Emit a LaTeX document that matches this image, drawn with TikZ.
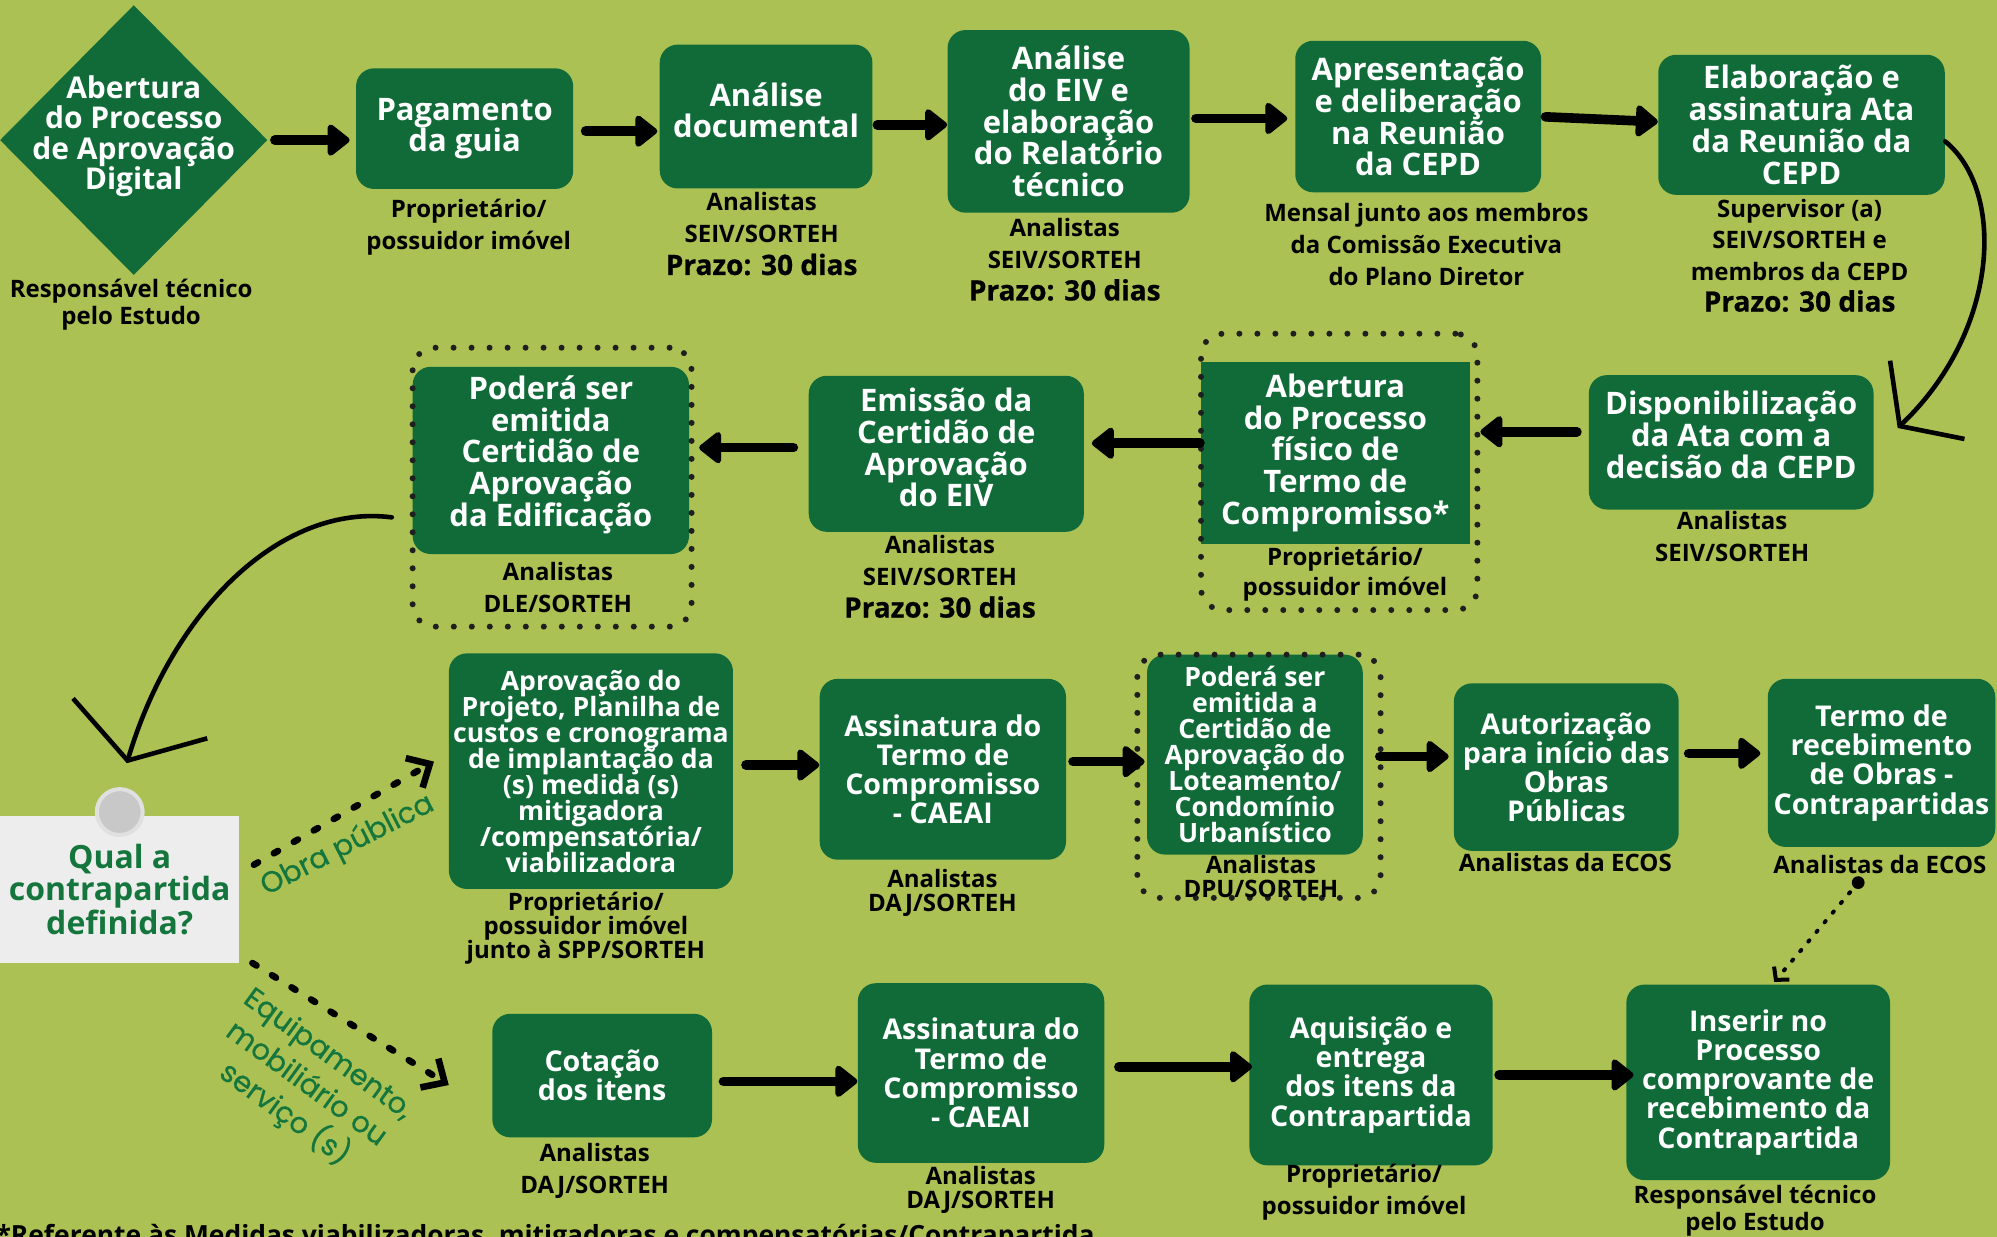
\documentclass[tikz,border=0pt]{standalone}
\usepackage{fontspec}
\setmainfont{Open Sans}
\newfontfamily\popfont[FakeBold=0.5]{Poppins}
\newfontfamily\przfont[FakeBold=0.7]{Open Sans}
\usetikzlibrary{arrows.meta,shapes.geometric}
\newcommand\pxu{0.6368pt}
\newcommand\prz{\przfont\bfseries\fontsize{14}{17}\selectfont}
\newcommand\dpth[1]{\rule[-#1]{0pt}{#1}}
\newcommand\tightls{\lineskiplimit=-50pt\relax}
\definecolor{bgc}{RGB}{171,193,83}
\definecolor{boxg}{RGB}{16,107,56}
\definecolor{txtg}{RGB}{20,118,60}
\definecolor{notebg}{RGB}{237,237,238}
\definecolor{pinfill}{RGB}{200,200,200}
\definecolor{pinring}{RGB}{224,224,224}
\tikzset{
 gbox/.style={fill=boxg, rounded corners=9pt, text=white, align=center, inner sep=0pt},
 sqbox/.style={fill=boxg, text=white, align=center, inner sep=0pt},
 sz/.style 2 args={minimum width=#1*\pxu, minimum height=#2*\pxu},
 fA/.style={font=\fontsize{15.5}{15.9}\selectfont\bfseries},
 fB/.style={font=\fontsize{14.3}{14.6}\selectfont\bfseries},
 fC/.style={font={\fontsize{13.3}{13}\selectfont\bfseries\tightls}},
 lbl/.style={anchor=north, align=center, inner sep=0pt, text=black, font=\fontsize{12}{#1}\selectfont\bfseries},
 lbl/.default=16,
 dotb/.style={draw=black!88, line width=3pt, dash pattern=on 0pt off 9pt, line cap=round, rounded corners=11pt, inner sep=0pt},
 barr/.style={line width=4.8pt, line cap=round, -{Triangle[length=12pt,width=18pt,round]}},
 curvR/.style={line width=2.3pt, line cap=round, -{Straight Barb[length=19pt,width=54pt]}},
 curvL/.style={line width=2.3pt, line cap=round, -{Straight Barb[length=22pt,width=70pt]}},
 dsh/.style={line width=3.3pt, line cap=round, dash pattern=on 2.4pt off 9.1pt, -{Straight Barb[length=9pt,width=17pt]}},
 dotarr/.style={line width=2pt, line cap=round, dash pattern=on 0.8pt off 5.5pt, -{Straight Barb[length=4.5pt,width=10pt]}},
 slant/.style={text=txtg, font=\popfont\fontsize{14.5}{18.5}\selectfont, align=center, inner sep=0pt}
}
\begin{document}
\begin{tikzpicture}[x=0.6368pt,y=-0.6368pt]
\fill[bgc] (0,0) rectangle (1568,971);
\useasboundingbox (0,0) rectangle (1568,971);

% ---------- row 1
\node[diamond, fill=boxg, sz={210}{212}, inner sep=0pt] (dia) at (105,110) {};
\node[text=white, align=center, inner sep=0pt, font=\fontsize{15}{15.1}\selectfont\bfseries] (diat) at (105,107) {Abertura\\do Processo\\de Aprovação\\Digital};
\node[gbox, fA, sz={170.5}{94.7}] (pag) at (364.8,101) {Pagamento\\da guia};
\node[gbox, fA, sz={167}{113}] (doc) at (601.5,91.5) {Análise\\documental\dpth{6.4pt}};
\node[gbox, fA, sz={190}{143.4}] (eiv) at (839,95.3) {Análise\\do EIV e\\elaboração\\do Relatório\\técnico};
\node[gbox, fA, sz={193}{119}] (apr) at (1113.5,91.5) {Apresentação\\e deliberação\\na Reunião\\da CEPD};
\node[gbox, fA, sz={225}{110}] (ela) at (1414.5,98) {Elaboração e\\assinatura Ata\\da Reunião da\\CEPD};

% ---------- row 2
\node[gbox, fA, sz={223.5}{105.5}] (dis) at (1359.3,347.3) {Disponibilização\\da Ata com a\\decisão da CEPD\dpth{7.6pt}};
\node[sqbox, fA, sz={211}{143}] (abf) at (1048.5,355.5) {Abertura\\do Processo\\físico de\\Termo de\\Compromisso*};
\node[gbox, fA, sz={216}{122.5}] (emi) at (743,356.3) {Emissão da\\Certidão de\\Aprovação\\do EIV\dpth{6.4pt}};
\node[gbox, fA, sz={217}{147}] (ped) at (432.5,361.5) {Poderá ser\\emitida\\Certidão de\\Aprovação\\da Edificação\dpth{9.4pt}};

% ---------- note
\node[fill=notebg, sz={188}{115}, inner sep=0pt, text=txtg, align=center, font=\fontsize{16}{15.6}\selectfont\bfseries] (note) at (94,698.5) {Qual a\\contrapartida\\definida?};
\node[circle, fill=pinfill, draw=pinring, line width=2pt, minimum size=36*\pxu, inner sep=0pt] (pin) at (94,637.6) {};

% ---------- row 3
\node[gbox, fC, sz={223}{185}] (apv) at (464,605.5) {Aprovação do\\Projeto, Planilha de\\custos e cronograma\\de implantação da\\(s) medida (s)\\mitigadora\\/compensatória/\\viabilizadora};
\node[gbox, fB, sz={193.4}{142}] (as3) at (740.3,604) {Assinatura do\\Termo de\\Compromisso\\- CAEAI};
\node[gbox, fC, sz={169.4}{157}] (lot) at (985.3,592.5) {Poderá ser\\emitida a\\Certidão de\\Aprovação do\\Loteamento/\\Condomínio\\Urbanístico};
\node[gbox, fB, sz={176.5}{131.5}] (aut) at (1229.8,602.3) {Autorização\\para início das\\Obras\\Públicas};
\node[gbox, fB, sz={178.6}{132}] (trc) at (1477.3,599) {Termo de\\recebimento\\de Obras -\\Contrapartidas};

% ---------- row 4
\node[gbox, fB, sz={172.5}{97}] (cot) at (472.8,844.5) {Cotação\\dos itens};
\node[gbox, fB, sz={193.5}{141}] (as4) at (770.3,842.5) {Assinatura do\\Termo de\\Compromisso\\- CAEAI};
\node[gbox, fB, sz={191}{142}] (aqu) at (1076.5,844) {Aquisição e\\entrega\\dos itens da\\Contrapartida};
\node[gbox, fB, sz={207}{153.5}] (ins) at (1380.5,849.8) {Inserir no\\Processo\\comprovante de\\recebimento da\\Contrapartida};

% ---------- dotted frames
\node[dotb, sz={217}{217}] (abfd) at (1051.5,370.5) {};
\node[dotb, sz={219}{219}] (pedd) at (433.5,382.5) {};
\node[dotb, sz={191}{191}] (lotd) at (988.5,609.5) {};

% ---------- labels
\node[lbl=13.4] (dial) at (103,219) {Responsável técnico\\pelo Estudo};
\node[lbl] (pagl) at (368,156) {Proprietário/\\possuidor imóvel};
\node[lbl] (docl) at (598,151) {Analistas\\SEIV/SORTEH\\\prz Prazo: 30 dias};
\node[lbl] (eivl) at (836,171) {Analistas\\SEIV/SORTEH\\\prz Prazo: 30 dias};
\node[lbl] (aprl) at (1120,159) {Mensal junto aos membros\\da Comissão Executiva\\do Plano Diretor};
\node[lbl=15.7] (elal) at (1413,156) {Supervisor (a)\\SEIV/SORTEH e\\membros da CEPD\\\prz Prazo: 30 dias};
\node[lbl] (disl) at (1360,401) {Analistas\\SEIV/SORTEH};
\node[lbl=15.3] (abfl) at (1056,429) {Proprietário/\\possuidor imóvel};
\node[lbl] (emil) at (738,420) {Analistas\\SEIV/SORTEH\\\prz Prazo: 30 dias};
\node[lbl] (pedl) at (438,441) {Analistas\\DLE/SORTEH};
\node[lbl=12.1] (apvl) at (460,700) {Proprietário/\\possuidor imóvel\\junto à SPP/SORTEH};
\node[lbl=12.1] (as3l) at (740,682) {Analistas\\DAJ/SORTEH};
\node[lbl=12.1] (lotl) at (990,671) {Analistas\\DPU/SORTEH};
\node[lbl] (autl) at (1229,670) {Analistas da ECOS};
\node[lbl] (trcl) at (1476,671) {Analistas da ECOS};
\node[lbl] (cotl) at (467,897) {Analistas\\DAJ/SORTEH};
\node[lbl=12.1] (as4l) at (770,915) {Analistas\\DAJ/SORTEH};
\node[lbl] (aqul) at (1071,914) {Proprietário/\\possuidor imóvel};
\node[lbl=13.4] (insl) at (1378,930) {Responsável técnico\\pelo Estudo};

\node[slant, rotate=27] (obra) at (273,664) {Obra pública};
\node[slant, rotate=-36] (equip) at (240,852) {Equipamento,\\mobiliário ou\\serviço (s)};

\node[anchor=base west, inner sep=0pt, font=\fontsize{13.2}{15}\selectfont\bfseries] (foot) at (-3,977) {*Referente às Medidas viabilizadoras, mitigadoras e compensatórias/Contrapartida};

% ---------- straight arrows
\draw[barr, shorten <=3.5pt, shorten >=3pt] (dia.east) -- (pag.west |- dia.east);
\draw[barr, shorten <=6pt, shorten >=1pt] (pag.east |- 0,103) -- (doc.west |- 0,103);
\draw[barr, shorten <=2.3pt, shorten >=0pt] (doc.east |- 0,98) -- (eiv.west |- 0,98);
\draw[barr, shorten <=3pt, shorten >=3.8pt] (eiv.east |- 0,93) -- (apr.west |- 0,93);
\draw[barr, shorten <=2pt, shorten >=0pt] (apr.east |- 0,91.6) -- (ela.west |- 0,95.6);

\draw[barr, shorten <=5.8pt, shorten >=0pt] (dis.west |- 0,339) -- (abfd.east |- 0,339);
\draw[barr, shorten <=0.3pt, shorten >=3.8pt] (abf.west |- 0,348) -- (emi.east |- 0,348);
\draw[barr, shorten <=7.5pt, shorten >=2.3pt] (emi.west |- 0,351.5) -- (pedd.east |- 0,351.5);

\draw[barr, shorten <=6.3pt, shorten >=0pt] (apv.east |- 0,600.7) -- (as3.west |- 0,600.7);
\draw[barr, shorten <=3.3pt, shorten >=1pt] (as3.east |- 0,598) -- (lot.west |- 0,598);
\draw[barr, shorten <=8.3pt, shorten >=2.4pt] (lot.east |- 0,594) -- (aut.west |- 0,594);
\draw[barr, shorten <=4.8pt, shorten >=3.5pt] (aut.east |- 0,591.5) -- (trc.west |- 0,591.5);

\draw[barr, shorten <=5.5pt, shorten >=0pt] (cot.east |- 0,849) -- (as4.west |- 0,849);
\draw[barr, shorten <=7.1pt, shorten >=-1.5pt] (as4.east |- 0,837.6) -- (aqu.west |- 0,837.6);
\draw[barr, shorten <=3pt, shorten >=-3.8pt] (aqu.east |- 0,844) -- (ins.west |- 0,844);

% ---------- curved arrows
\coordinate (rtip) at (1490,336);
\draw[curvR] (ela.east |- 0,111) .. controls (1575,150) and (1570,260) .. (rtip);
\draw[curvL, shorten <=9pt, shorten >=12.5pt] (pedd.west |- 0,408) .. controls (220,395) and (135,480) .. (pin.north);

% ---------- dashed branches
\draw[dsh, shorten <=8.1pt, shorten >=8.4pt] (note.east |- 0,685.3) -- (apv.west |- 0,591.4);
\draw[dsh, shorten <=7.4pt, shorten >=25.4pt] (note.east |- 0,750) -- (cot.west |- 0,873);

% ---------- dotted link
\coordinate (dstart) at (1459,693);
\coordinate (dend) at (1393,771);
\fill (dstart) circle (3.2pt);
\draw[dotarr] (dstart) -- (dend);
\end{tikzpicture}
\end{document}
